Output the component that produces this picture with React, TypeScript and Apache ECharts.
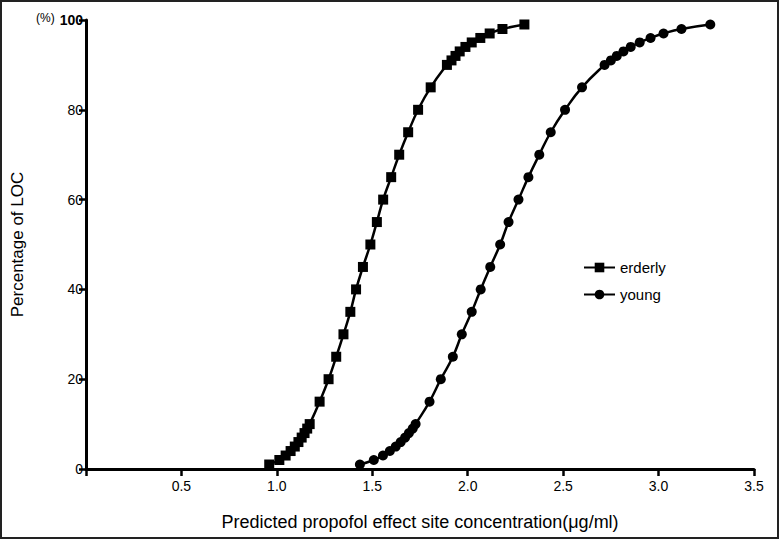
import React, { useEffect, useRef } from "react";
import * as echarts from "echarts";

const pct = [1, 2, 3, 4, 5, 6, 7, 8, 9, 10, 15, 20, 25, 30, 35, 40, 45, 50, 55, 60, 65, 70, 75, 80, 85, 90, 91, 92, 93, 94, 95, 96, 97, 98, 99];
const erderlyConc = [0.96, 1.013, 1.046, 1.072, 1.094, 1.113, 1.13, 1.145, 1.159, 1.172, 1.224, 1.271, 1.311, 1.349, 1.385, 1.415, 1.451, 1.49, 1.524, 1.557, 1.599, 1.641, 1.688, 1.74, 1.806, 1.891, 1.915, 1.936, 1.958, 1.988, 2.021, 2.066, 2.115, 2.182, 2.297];
const youngConc = [1.435, 1.508, 1.556, 1.592, 1.623, 1.649, 1.672, 1.692, 1.712, 1.727, 1.8, 1.859, 1.922, 1.969, 2.021, 2.068, 2.118, 2.17, 2.214, 2.266, 2.318, 2.375, 2.435, 2.51, 2.599, 2.717, 2.75, 2.781, 2.816, 2.854, 2.901, 2.958, 3.026, 3.12, 3.271];
const seriesNames = ["erderly", "young"];
const xTicks = [0.5, 1.0, 1.5, 2.0, 2.5, 3.0, 3.5];

export default function App() {
  const ref = useRef<HTMLDivElement>(null);
  useEffect(() => {
    document.body.style.margin = "0";
    const chart = echarts.init(ref.current!, null, { renderer: "svg" });
    const font = "Liberation Sans, Arial, sans-serif";
    chart.setOption({
      animation: false,
      textStyle: { fontFamily: font },
      grid: { left: 86, right: 25, top: 20, bottom: 70, containLabel: false },
      legend: {
        orient: "vertical",
        left: 578,
        top: 255,
        itemWidth: 31,
        itemHeight: 12,
        itemGap: 12,
        textStyle: { fontSize: 15, color: "#000", fontFamily: font },
        data: seriesNames,
      },
      graphic: [
        { type: "text", left: 36, top: 12, style: { text: "(%)", fontSize: 12, fill: "#000", fontFamily: font } },
      ],
      xAxis: {
        type: "value",
        min: 0,
        max: 3.5,
        interval: 0.5,
        name: "Predicted propofol effect site concentration(μg/ml)",
        nameLocation: "middle",
        nameGap: 44,
        nameTextStyle: { fontSize: 18, color: "#000", fontFamily: font },
        splitLine: { show: false },
        axisLine: { show: true, lineStyle: { color: "#000", width: 3 } },
        axisTick: { show: true, length: 7, lineStyle: { color: "#000", width: 2.5 } },
        axisLabel: {
          fontSize: 14,
          color: "#000",
          margin: 10,
          formatter: (v: number) => (xTicks.includes(v) ? v.toFixed(1) : ""),
        },
      },
      yAxis: {
        type: "value",
        min: 0,
        max: 100,
        interval: 20,
        name: "Percentage of LOC",
        nameLocation: "middle",
        nameGap: 60,
        nameTextStyle: { fontSize: 17, color: "#000", fontFamily: font },
        splitLine: { show: false },
        axisLine: { show: true, lineStyle: { color: "#000", width: 3 } },
        axisTick: { show: true, length: 7, lineStyle: { color: "#000", width: 2.5 } },
        axisLabel: {
          fontSize: 14,
          color: "#000",
          margin: 3,
          formatter: (v: number) => (v === 100 ? "{b|100}" : String(v)),
          rich: { b: { fontSize: 14, fontWeight: "bold", color: "#000" } },
        },
      },
      series: [
        {
          name: seriesNames[0],
          type: "line",
          smooth: true,
          symbol: "rect",
          symbolSize: 10,
          itemStyle: { color: "#000" },
          lineStyle: { color: "#000", width: 2.5 },
          data: erderlyConc.map((x, i) => [x, pct[i]]),
        },
        {
          name: seriesNames[1],
          type: "line",
          smooth: true,
          symbol: "circle",
          symbolSize: 10,
          itemStyle: { color: "#000" },
          lineStyle: { color: "#000", width: 2.5 },
          data: youngConc.map((x, i) => [x, pct[i]]),
        },
      ],
    });
    return () => chart.dispose();
  }, []);
  return (
    <div style={{ position: "absolute", left: 0, top: 0, width: 779, height: 539, background: "#fff" }}>
      <div ref={ref} style={{ position: "absolute", left: 0, top: 0, width: 779, height: 539 }} />
      <div
        style={{
          position: "absolute",
          left: 0,
          top: 0,
          width: 779,
          height: 539,
          boxSizing: "border-box",
          border: "2px solid #222",
          pointerEvents: "none",
        }}
      />
    </div>
  );
}
